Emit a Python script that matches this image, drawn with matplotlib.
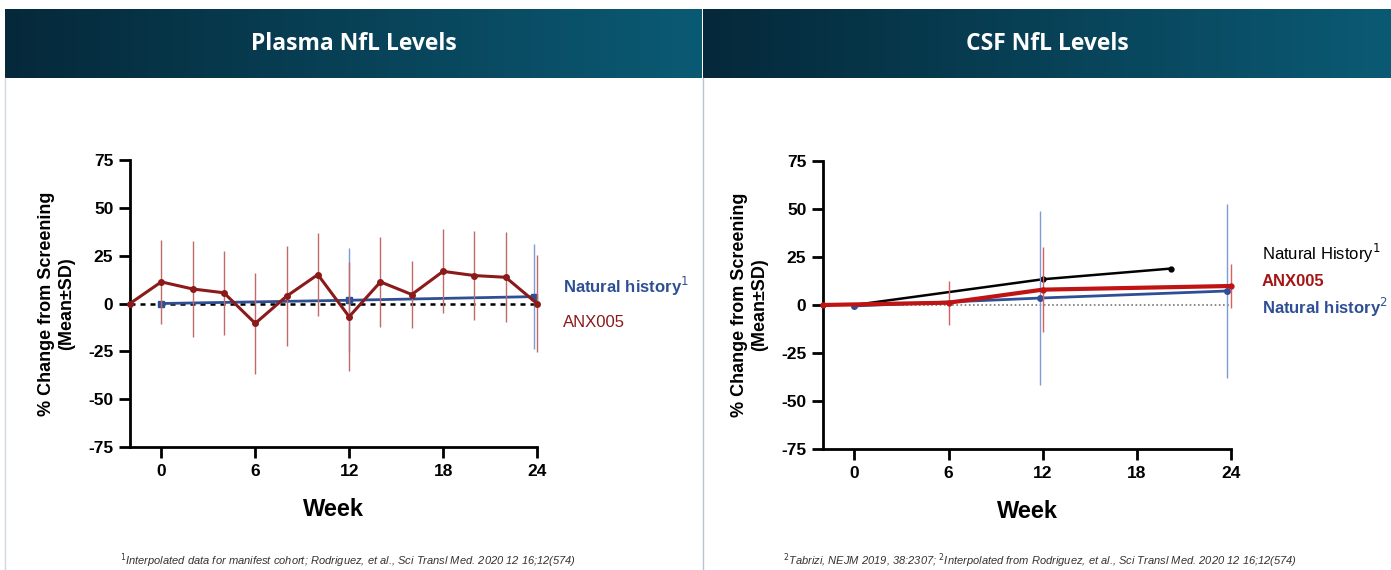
import numpy as np
import matplotlib.pyplot as plt
from matplotlib.colors import LinearSegmentedColormap

plt.rcParams['font.family'] = ['Liberation Sans', 'DejaVu Sans']

# ---- data ----
titles = ["Plasma NfL Levels", "CSF NfL Levels"]
xticks = [0, 6, 12, 18, 24]
yticks = [75, 50, 25, 0, -25, -50, -75]

# plasma
pl_anx_week = [-2, 0, 2, 4, 6, 8, 10, 12, 14, 16, 18, 20, 22, 24]
pl_anx_mean = [0, 11.3, 7.6, 5.6, -10.4, 3.8, 15.1, -6.9, 11.3, 4.7, 16.8, 14.6, 13.7, 0]
pl_anx_sd = [0, 21.8, 25.2, 22.0, 26.5, 26.0, 21.7, 28.4, 23.7, 17.3, 22.0, 23.4, 23.6, 25.4]
pl_nh_week = [0, 12, 23.8]
pl_nh_mean = [0, 1.7, 3.6]
pl_nh_sd = [0, 27.2, 27.5]

# csf
csf_nh1_week = [0, 12, 20.2]
csf_nh1_mean = [0, 13.4, 19.0]
csf_anx_week = [-2, 6, 12, 24]
csf_anx_mean = [0, 1.2, 8.0, 9.9]
csf_anx_sd = [0, 11.4, 22.0, 11.5]
csf_nh2_week = [0, 11.8, 23.75]
csf_nh2_mean = [-0.5, 3.6, 7.3]
csf_nh2_sd = [0, 45.4, 45.2]

footnotes = [
    "$^{1}$Interpolated data for manifest cohort; Rodriguez, et al., Sci Transl Med. 2020 12 16;12(574)",
    "$^{2}$Tabrizi, NEJM 2019, 38:2307; $^{2}$Interpolated from Rodriguez, et al., Sci Transl Med. 2020 12 16;12(574)",
]

blue = "#2f4f95"
blue_err = "#7f9bd3"
dred = "#8b1a1a"
dred_err = "#c06a6a"
red = "#c01414"

fig = plt.figure(figsize=(13.91, 5.70), dpi=100)

# header bars with gradient
cmap = LinearSegmentedColormap.from_list("hdr", ["#05293a", "#0b5a74"])
grad = np.linspace(0, 1, 256).reshape(1, -1)
for i, (x0, x1) in enumerate([(5, 702), (703, 1391)]):
    hax = fig.add_axes([x0 / 1391, 1 - 78 / 570, (x1 - x0) / 1391, 69 / 570])
    hax.imshow(grad, aspect="auto", cmap=cmap, extent=[0, 1, 0, 1])
    hax.set_axis_off()
    hax.text(0.5, 0.5, titles[i], color="white", fontsize=16.5, fontweight="bold",
             family=["Open Sans", "DejaVu Sans"], ha="center", va="center",
             transform=hax.transAxes)

# separators
fig.add_artist(plt.Line2D([703 / 1391, 703 / 1391], [0, 1 - 78 / 570], color="#b8c4d6", lw=1,
                          transform=fig.transFigure))
fig.add_artist(plt.Line2D([5 / 1391, 5 / 1391], [0, 1 - 78 / 570], color="#d0d8e4", lw=1,
                          transform=fig.transFigure))

ax1 = fig.add_axes([130 / 1391, 1 - 447 / 570, 407 / 1391, 287 / 570])
ax2 = fig.add_axes([823 / 1391, 1 - 449 / 570, 408 / 1391, 288 / 570])

for ax in (ax1, ax2):
    ax.set_xlim(-2, 24)
    ax.set_ylim(-75, 75)
    ax.set_xticks(xticks)
    ax.set_yticks(yticks)
    ax.set_xticklabels([str(t) for t in xticks], fontsize=12.5, fontweight="bold")
    ax.set_yticklabels([str(t) for t in yticks], fontsize=12.5, fontweight="bold")
    ax.spines["top"].set_visible(False)
    ax.spines["right"].set_visible(False)
    ax.spines["left"].set_linewidth(2)
    ax.spines["bottom"].set_linewidth(2)
    ax.tick_params(width=2, length=8, pad=4)
    ax.set_xlabel("Week", fontsize=17, fontweight="bold", labelpad=14)
    ax.set_ylabel("% Change from Screening\n(Mean\u00b1SD)", fontsize=13, fontweight="bold",
                  labelpad=9, linespacing=1.3)

# plasma
ax1.axhline(0, color="black", ls=(0, (2, 2)), lw=1.8, zorder=2)
ax1.errorbar(pl_nh_week, pl_nh_mean, yerr=pl_nh_sd, color=blue, ecolor=blue_err, elinewidth=1,
             lw=2, marker="s", ms=4, capsize=0, clip_on=False, zorder=3)
ax1.errorbar(pl_anx_week, pl_anx_mean, yerr=pl_anx_sd, color=dred, ecolor=dred_err, elinewidth=1,
             lw=2.2, marker="o", ms=4, capsize=0, clip_on=False, zorder=4)
ax1.text(1.065, 0.56, "Natural history$^{1}$", color=blue, fontsize=12, fontweight="bold",
         transform=ax1.transAxes, va="center")
ax1.text(1.065, 0.435, "ANX005", color=dred, fontsize=12, transform=ax1.transAxes, va="center")

# csf
ax2.axhline(0, color="#777777", ls=(0, (1, 1.5)), lw=1.2, zorder=2)
ax2.plot(csf_nh1_week, csf_nh1_mean, color="black", lw=1.8, marker="o", ms=3.5,
         markevery=[1, 2], clip_on=False, zorder=3)
ax2.errorbar(csf_nh2_week, csf_nh2_mean, yerr=csf_nh2_sd, color=blue, ecolor=blue_err, elinewidth=1,
             lw=2, marker="o", ms=4, capsize=0, clip_on=False, zorder=4)
ax2.errorbar(csf_anx_week, csf_anx_mean, yerr=csf_anx_sd, color=red, ecolor="#d86060", elinewidth=1,
             lw=3, marker="o", ms=3.5, capsize=0, clip_on=False, zorder=5)
ax2.text(1.075, 0.68, "Natural History$^{1}$", color="black", fontsize=12,
         transform=ax2.transAxes, va="center")
ax2.text(1.075, 0.58, "ANX005", color="#a51515", fontsize=12, fontweight="bold",
         transform=ax2.transAxes, va="center")
ax2.text(1.075, 0.49, "Natural history$^{2}$", color=blue, fontsize=12, fontweight="bold",
         transform=ax2.transAxes, va="center")

# footnotes
fig.text(348 / 1391, 1 - 561 / 570, footnotes[0], fontsize=8, style="italic", color="#333333",
         ha="center", va="center")
fig.text(1040 / 1391, 1 - 561 / 570, footnotes[1], fontsize=8, style="italic", color="#333333",
         ha="center", va="center")

fig.savefig("out.png", dpi=100)
